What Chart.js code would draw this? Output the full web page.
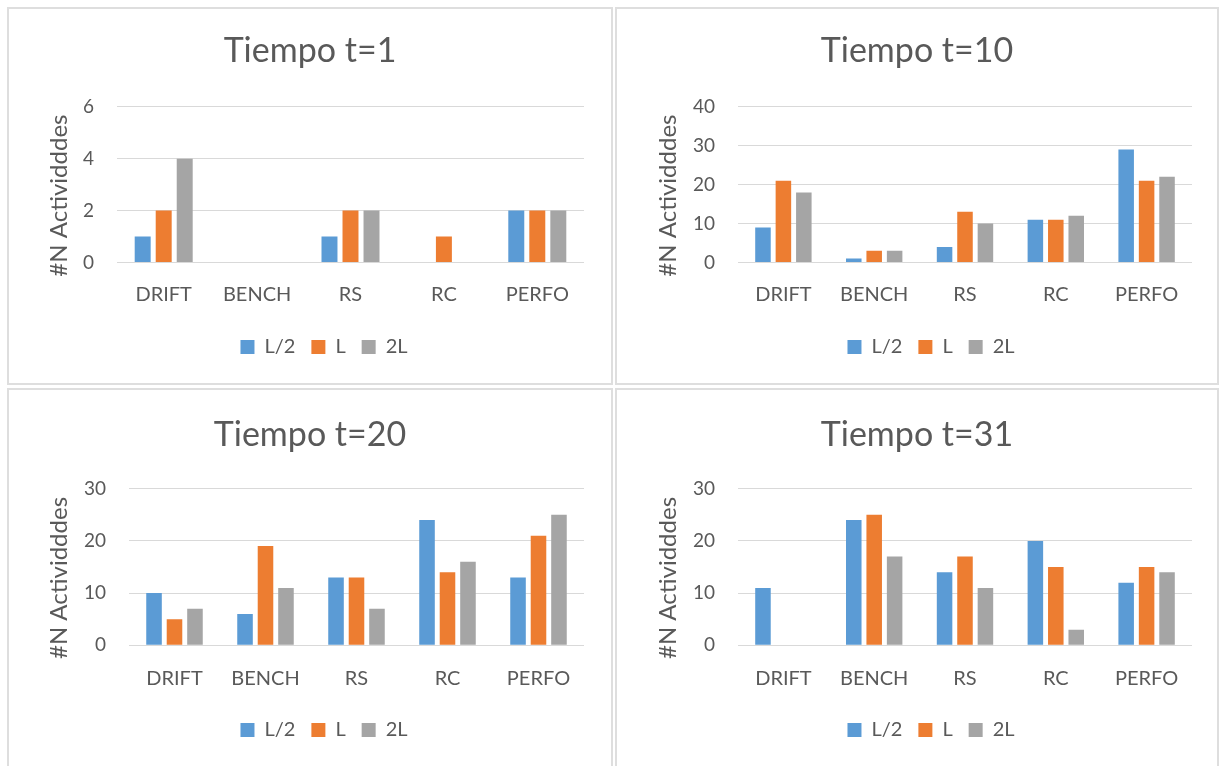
<!DOCTYPE html>
<html>
<head>
<meta charset="utf-8">
<script src="https://cdn.jsdelivr.net/npm/chart.js@4.4.1/dist/chart.umd.min.js"></script>
<style>
  html, body { margin: 0; padding: 0; background: #ffffff; overflow: hidden; }
  body { width: 1220px; height: 766px; position: relative; }
  .panel { position: absolute; border: 2px solid #dedede; box-sizing: border-box; background: #fff; overflow: hidden; }
  .panel canvas { position: absolute; left: 0; top: 0; }
</style>
</head>
<body>
<div class="panel" id="p1" style="left:7px;top:7px;width:606px;height:378px;"><canvas id="c1"></canvas></div>
<div class="panel" id="p2" style="left:615px;top:7px;width:604px;height:378px;"><canvas id="c2"></canvas></div>
<div class="panel" id="p3" style="left:7px;top:388px;width:606px;height:385px;"><canvas id="c3"></canvas></div>
<div class="panel" id="p4" style="left:615px;top:388px;width:604px;height:385px;"><canvas id="c4"></canvas></div>
<script>
// Activity categories and series
const categories = ['DRIFT', 'BENCH', 'RS', 'RC', 'PERFO'];
const seriesNames = ['L/2', 'L', '2L'];
const seriesColors = ['#5B9BD5', '#ED7D31', '#A5A5A5'];

// Number of activities per time step
const t1_half = [1, 0, 1, 0, 2];
const t1_L    = [2, 0, 2, 1, 2];
const t1_2L   = [4, 0, 2, 0, 2];

const t10_half = [9, 1, 4, 11, 29];
const t10_L    = [21, 3, 13, 11, 21];
const t10_2L   = [18, 3, 10, 12, 22];

const t20_half = [10, 6, 13, 24, 13];
const t20_L    = [5, 19, 13, 14, 21];
const t20_2L   = [7, 11, 7, 16, 25];

const t31_half = [11, 24, 14, 20, 12];
const t31_L    = [0, 25, 17, 15, 15];
const t31_2L   = [0, 17, 11, 3, 14];

// Chart titles and value axes
const chartTitles = ['Tiempo t=1', 'Tiempo t=10', 'Tiempo t=20', 'Tiempo t=31'];
const yMax  = [6, 40, 30, 30];
const yStep = [2, 10, 10, 10];
const yAxisTitle = '#N Actividddes';

const TEXT = '#595959';
const FONT = 'Lato, "Open Sans", sans-serif';
Chart.defaults.font.family = FONT;
Chart.defaults.color = TEXT;

// Title and legend are centred on the panel rather than on the padded layout box
const spanFull = {
  id: 'spanFull',
  afterLayout(chart, args, opts) {
    const t = chart.titleBlock;
    if (t) { t.left = 0; t.right = chart.width; t.width = chart.width; }
    const lg = chart.legend;
    if (lg) { lg.left = opts.legendLeft || 0; lg.right = chart.width; lg.width = lg.right - lg.left; }
  }
};

// Rotated value-axis title, placed slightly below the plot-area centre
const valueAxisTitle = {
  id: 'valueAxisTitle',
  afterDraw(chart, args, opts) {
    const area = chart.chartArea;
    const ctx = chart.ctx;
    ctx.save();
    ctx.translate(opts.x, (area.top + area.bottom) / 2 + opts.dy);
    ctx.rotate(-Math.PI / 2);
    ctx.font = opts.size + 'px ' + FONT;
    ctx.fillStyle = TEXT;
    ctx.textAlign = 'center';
    ctx.textBaseline = 'middle';
    ctx.fillText(opts.text, 0, 0);
    ctx.restore();
  }
};

// canvas size + plot-area geometry for each panel
const layouts = [
  { w: 602, h: 374, left: 108, right: 575, top: 97.7, bottom: 253.5, titleY: 42, legendY: 338, labelGap: 12.5, axisX: 50 },
  { w: 600, h: 374, left: 121, right: 575, top: 97.7, bottom: 253.5, titleY: 42, legendY: 338, labelGap: 12.5, axisX: 51 },
  { w: 602, h: 381, left: 120, right: 575, top: 98.7, bottom: 255.3, titleY: 45, legendY: 340, labelGap: 13.5, axisX: 50 },
  { w: 600, h: 381, left: 121, right: 575, top: 98.7, bottom: 255.3, titleY: 45, legendY: 340, labelGap: 13.5, axisX: 51 }
];

const seriesSets = [
  [t1_half, t1_L, t1_2L],
  [t10_half, t10_L, t10_2L],
  [t20_half, t20_L, t20_2L],
  [t31_half, t31_L, t31_2L]
];

const TITLE_SIZE = 34, TITLE_LH = 1.2;
const LEG_FONT = 20, LEG_PAD = 16, LEG_BOX = 14;

seriesSets.forEach((sets, i) => {
  const g = layouts[i];
  const canvas = document.getElementById('c' + (i + 1));
  canvas.width = g.w; canvas.height = g.h;
  canvas.style.width = g.w + 'px'; canvas.style.height = g.h + 'px';

  const titleLine = TITLE_SIZE * TITLE_LH;
  const titlePadTop = g.titleY - titleLine / 2;
  const titlePadBottom = g.top - titlePadTop - titleLine;

  const legendItemH = Math.max(LEG_FONT, LEG_BOX);
  const legendH = legendItemH + LEG_PAD + 10;
  const legendTop = g.legendY - LEG_PAD - legendItemH / 2;
  const xAxisH = legendTop - g.bottom;
  const padBottom = g.h - (legendTop + legendH);

  new Chart(canvas, {
    type: 'bar',
    data: {
      labels: categories,
      datasets: sets.map((vals, k) => ({
        label: seriesNames[k],
        data: vals,
        backgroundColor: seriesColors[k],
        borderWidth: 0,
        categoryPercentage: 0.675,
        barPercentage: 0.76
      }))
    },
    options: {
      responsive: false,
      animation: false,
      events: [],
      layout: { padding: { left: 0, top: 0, right: g.w - g.right, bottom: padBottom } },
      plugins: {
        title: {
          display: true,
          text: chartTitles[i],
          color: TEXT,
          font: { size: TITLE_SIZE, weight: 'normal', lineHeight: TITLE_LH },
          padding: { top: titlePadTop, bottom: titlePadBottom }
        },
        legend: {
          display: true,
          position: 'bottom',
          labels: {
            boxWidth: LEG_BOX,
            boxHeight: LEG_BOX,
            padding: LEG_PAD,
            color: TEXT,
            font: { size: LEG_FONT }
          }
        },
        tooltip: { enabled: false },
        spanFull: { legendLeft: 28 },
        valueAxisTitle: { text: yAxisTitle, x: g.axisX, dy: 11, size: 24 }
      },
      scales: {
        x: {
          grid: { display: false },
          border: { display: false },
          ticks: { color: TEXT, font: { size: 20 }, padding: g.labelGap, maxRotation: 0, autoSkip: false },
          afterFit(scale) { scale.height = xAxisH; }
        },
        y: {
          min: 0,
          max: yMax[i],
          ticks: { stepSize: yStep[i], color: TEXT, font: { size: 19 }, padding: 23 },
          grid: { color: '#d9d9d9', lineWidth: 1, drawTicks: false },
          border: { display: false },
          afterFit(scale) { scale.width = g.left; }
        }
      }
    },
    plugins: [spanFull, valueAxisTitle]
  });
});
</script>
</body>
</html>
